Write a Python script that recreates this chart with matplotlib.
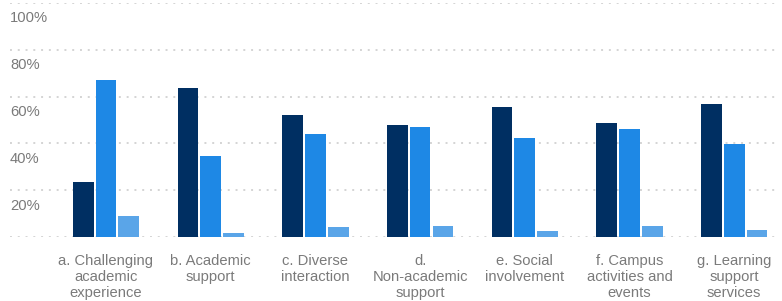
import matplotlib.pyplot as plt
import numpy as np

plt.rcParams['font.family'] = ['Liberation Sans', 'DejaVu Sans']

categories = ["a. Challenging\nacademic\nexperience", "b. Academic\nsupport",
              "c. Diverse\ninteraction", "d.\nNon-academic\nsupport",
              "e. Social\ninvolvement", "f. Campus\nactivities and\nevents",
              "g. Learning\nsupport\nservices"]
series1 = [23.6, 63.5, 52.1, 47.7, 55.4, 48.8, 57.0]
series2 = [67.0, 34.7, 43.9, 47.1, 42.4, 46.2, 39.6]
series3 = [9.1, 1.6, 4.1, 4.7, 2.6, 4.7, 3.1]
yticks = [20, 40, 60, 80, 100]

colors = ["#002f62", "#1e88e5", "#5aa5e8"]

W, H = 782, 301
fig = plt.figure(figsize=(W / 100, H / 100), dpi=100)
ax = fig.add_axes([0, (H - 237) / H, 1, 234 / H])
ax.set_ylim(0, 100)
ax.set_xlim(-106 / 104.7, (W - 106) / 104.7)
ax.axis("off")

# dotted grid
for v in [0] + yticks:
    ax.axhline(v, xmin=10 / W, xmax=777 / W, color="#d4d4d4", lw=1.4,
               linestyle=(0, (1, 3)), zorder=0)
    if v > 0:
        ax.text(10 / W, v - 6.6, f"{v}%", transform=ax.get_yaxis_transform(),
                ha="left", va="center", fontsize=10.6, color="#7a7a7a")

x = np.arange(len(categories))
off = 0.218
bw = 0.198
for i, (vals, c) in enumerate(zip([series1, series2, series3], colors)):
    ax.bar(x + (i - 1) * off, vals, width=bw, color=c, zorder=2)

for xi, lab in zip(x, categories):
    ax.text(xi, -7.3, lab, ha="center", va="top", fontsize=10.6,
            color="#7a7a7a", linespacing=1.2, clip_on=False)

fig.savefig("out.png", dpi=100)
